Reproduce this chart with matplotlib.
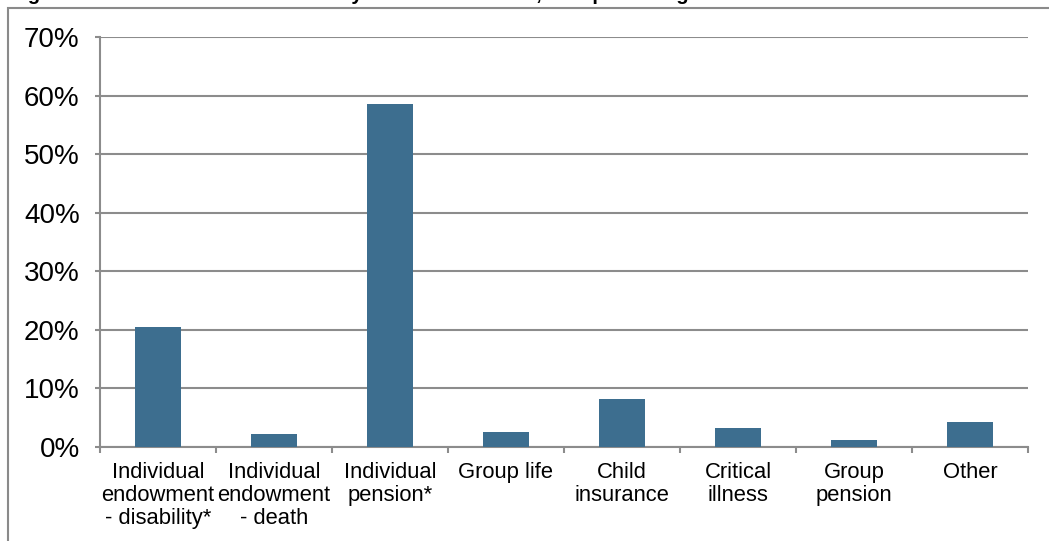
import matplotlib
matplotlib.use("Agg")
import matplotlib.pyplot as plt
from matplotlib.patches import Rectangle
from matplotlib.ticker import FuncFormatter, FixedLocator, NullFormatter

plt.rcParams['font.family'] = ['Liberation Sans', 'DejaVu Sans']

categories = [
    "Individual\nendowment\n- disability*",
    "Individual\nendowment\n- death",
    "Individual\npension*",
    "Group life",
    "Child\ninsurance",
    "Critical\nillness",
    "Group\npension",
    "Other",
]
shares = [20.5, 2.2, 58.5, 2.6, 8.2, 3.2, 1.2, 4.2]
y_ticks = [0, 10, 20, 30, 40, 50, 60, 70]
title = "Figure 10: Value of detected fraud by class of business, as a percentage of the total"

W, H = 1049, 541
fig = plt.figure(figsize=(W / 100, H / 100), dpi=100)
fig.patch.set_facecolor("white")

grey = "#8c8c8c"
bar_color = "#3d6e8f"

# outer frame around the chart area
frame = Rectangle((8 / W, -0.05), 1.2, 1 - 8 / H + 0.05, transform=fig.transFigure,
                  fill=False, edgecolor="#8a8a8a", linewidth=1.5, clip_on=False)
fig.add_artist(frame)

# heading sitting at the very top edge
fig.text(10 / W, 1 + 0.5 / H, title, fontsize=14.5, fontweight="bold",
         ha="left", va="baseline", color="black")

ax = fig.add_axes([100 / W, 1 - 447 / H, (1028 - 100) / W, (447 - 37) / H])
x = list(range(len(categories)))
ax.bar(x, shares, width=0.4, color=bar_color, zorder=3)

ax.set_xlim(-0.5, len(categories) - 0.5)
ax.set_ylim(0, 70)
ax.set_yticks(y_ticks)
ax.yaxis.set_major_formatter(FuncFormatter(lambda v, p: f"{v:.0f}%"))
ax.grid(axis="y", color=grey, linewidth=1.5, zorder=0)
ax.set_axisbelow(True)

# category labels centred, ticks at category boundaries
ax.xaxis.set_major_locator(FixedLocator([i - 0.5 for i in range(len(categories) + 1)]))
ax.xaxis.set_major_formatter(NullFormatter())
ax.xaxis.set_minor_locator(FixedLocator(x))
ax.set_xticklabels(categories, minor=True, linespacing=1.12)
ax.tick_params(axis="x", which="major", direction="out", length=4.5, width=1.5, color=grey)
ax.tick_params(axis="x", which="minor", length=0, pad=11, labelsize=15.8)
ax.tick_params(axis="y", direction="out", length=3.6, width=1.5, color=grey,
               pad=11, labelsize=20)

for side in ("top", "right"):
    ax.spines[side].set_visible(False)
for side in ("left", "bottom"):
    ax.spines[side].set_color(grey)
    ax.spines[side].set_linewidth(1.5)

fig.savefig("out.png", dpi=100, facecolor="white")
